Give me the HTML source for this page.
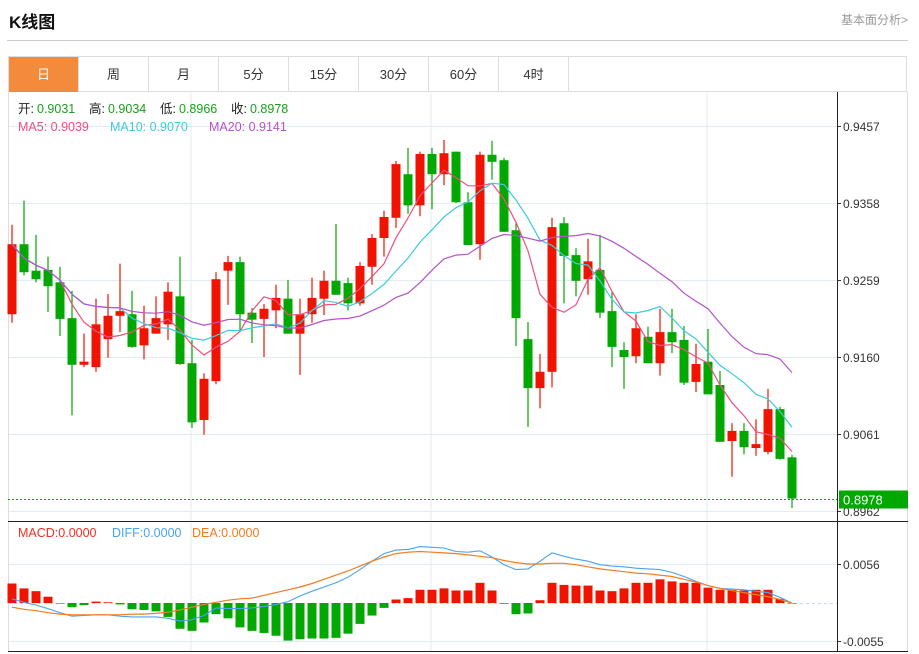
<!DOCTYPE html>
<html><head><meta charset="utf-8">
<style>
body{margin:0;background:#fff;width:919px;height:654px;overflow:hidden;font-family:"Liberation Sans","Noto Sans CJK SC",sans-serif;}
#title{position:absolute;left:9px;top:8px;font-size:17px;font-weight:bold;color:#111;}
#fund{position:absolute;left:841px;top:11px;font-size:12px;color:#999;}
#hr{position:absolute;left:7px;top:40px;width:901px;height:1px;background:#ccc;}
#tabs{position:absolute;left:8px;top:56px;width:899px;height:36px;border:1px solid #ddd;border-bottom:1px solid #ddd;box-sizing:border-box;}
.tab{position:absolute;top:0;height:35px;width:70px;border-right:1px solid #ddd;text-align:center;line-height:35px;font-size:13px;color:#333;box-sizing:border-box;}
.tab.on{background:#f28c3c;color:#fff;}
svg{position:absolute;left:0;top:0;}
</style></head><body>
<div id="title">K线图</div>
<div id="fund">基本面分析&gt;</div>
<div id="hr"></div>
<div id="tabs">
<div class="tab on" style="left:0">日</div>
<div class="tab" style="left:70px">周</div>
<div class="tab" style="left:140px">月</div>
<div class="tab" style="left:210px">5分</div>
<div class="tab" style="left:280px">15分</div>
<div class="tab" style="left:350px">30分</div>
<div class="tab" style="left:420px">60分</div>
<div class="tab" style="left:490px">4时</div>
</div>
<svg id="chart" width="919" height="654"></svg>
<script>
const opens=[0.9215,0.9305,0.9271,0.9272,0.9256,0.9210,0.9150,0.9147,0.9183,0.9213,0.9215,0.9175,0.9190,0.9202,0.9238,0.9152,0.9079,0.9129,0.9271,0.9282,0.9217,0.9209,0.9220,0.9235,0.9190,0.9215,0.9235,0.9258,0.9255,0.9229,0.9276,0.9313,0.9339,0.9395,0.9355,0.9421,0.9395,0.9424,0.9359,0.9305,0.9420,0.9413,0.9323,0.9183,0.9120,0.9141,0.9332,0.9291,0.9260,0.9272,0.9219,0.9169,0.9161,0.9186,0.9152,0.9192,0.9182,0.9128,0.9154,0.9124,0.9052,0.9065,0.9043,0.9038,0.9093,0.9031];
const highs=[0.9330,0.9361,0.9317,0.9289,0.9276,0.9245,0.9190,0.9235,0.9241,0.9280,0.9245,0.9226,0.9238,0.9256,0.9289,0.9182,0.9139,0.9269,0.9290,0.9289,0.9223,0.9228,0.9253,0.9259,0.9235,0.9262,0.9271,0.9331,0.9262,0.9282,0.9318,0.9348,0.9412,0.9429,0.9424,0.9429,0.9439,0.9424,0.9372,0.9424,0.9438,0.9416,0.9332,0.9205,0.9164,0.9339,0.9340,0.9300,0.9312,0.9317,0.9244,0.9179,0.9215,0.9199,0.9222,0.9222,0.9200,0.9177,0.9196,0.9142,0.9075,0.9075,0.9080,0.9119,0.9096,0.9034];
const lows=[0.9204,0.9265,0.9256,0.9218,0.9187,0.9085,0.9147,0.9141,0.9159,0.9192,0.9172,0.9157,0.9190,0.9182,0.9150,0.9069,0.9060,0.9125,0.9227,0.9192,0.9178,0.9160,0.9197,0.9190,0.9137,0.9204,0.9214,0.9240,0.9220,0.9226,0.9253,0.9289,0.9326,0.9344,0.9341,0.9350,0.9381,0.9358,0.9304,0.9285,0.9388,0.9321,0.9174,0.9070,0.9094,0.9121,0.9229,0.9238,0.9240,0.9210,0.9147,0.9119,0.9152,0.9152,0.9136,0.9165,0.9124,0.9115,0.9112,0.9051,0.9006,0.9035,0.9033,0.9035,0.9028,0.8966];
const closes=[0.9305,0.9269,0.9260,0.9251,0.9209,0.9150,0.9154,0.9202,0.9213,0.9219,0.9173,0.9197,0.9210,0.9244,0.9151,0.9076,0.9132,0.9260,0.9282,0.9215,0.9208,0.9222,0.9236,0.9190,0.9215,0.9236,0.9258,0.9240,0.9229,0.9277,0.9313,0.9340,0.9408,0.9355,0.9421,0.9395,0.9422,0.9359,0.9304,0.9420,0.9411,0.9321,0.9210,0.9120,0.9141,0.9327,0.9290,0.9258,0.9283,0.9217,0.9173,0.9160,0.9197,0.9152,0.9192,0.9179,0.9127,0.9151,0.9112,0.9051,0.9065,0.9044,0.9048,0.9093,0.9029,0.8978];
const macdHist=[0.0028,0.0021,0.0017,0.0009,0.0000,-0.0006,-0.0003,0.0002,0.0001,-0.0002,-0.0009,-0.0010,-0.0012,-0.0020,-0.0037,-0.0040,-0.0028,-0.0016,-0.0022,-0.0035,-0.0040,-0.0043,-0.0047,-0.0054,-0.0052,-0.0051,-0.0051,-0.0050,-0.0044,-0.0030,-0.0018,-0.0007,0.0005,0.0007,0.0019,0.0019,0.0021,0.0018,0.0018,0.0029,0.0018,-0.0001,-0.0016,-0.0015,0.0004,0.0029,0.0026,0.0025,0.0025,0.0018,0.0017,0.0021,0.0029,0.0029,0.0034,0.0031,0.0029,0.0029,0.0022,0.0019,0.0019,0.0018,0.0019,0.0019,0.0006,0.0000];
const diffLine=[0.0006,0.0001,-0.0003,-0.0008,-0.0014,-0.0019,-0.0018,-0.0017,-0.0017,-0.0019,-0.0020,-0.0020,-0.0020,-0.0022,-0.0026,-0.0024,-0.0018,-0.0007,-0.0008,-0.0008,-0.0007,-0.0005,-0.0002,0.0002,0.0010,0.0017,0.0023,0.0029,0.0037,0.0048,0.0060,0.0071,0.0076,0.0077,0.0081,0.0080,0.0079,0.0074,0.0073,0.0075,0.0066,0.0055,0.0048,0.0049,0.0060,0.0072,0.0067,0.0063,0.0060,0.0055,0.0053,0.0052,0.0050,0.0049,0.0048,0.0044,0.0038,0.0031,0.0025,0.0021,0.0020,0.0019,0.0017,0.0015,0.0008,0.0000];
const deaLine=[-0.0006,-0.0009,-0.0011,-0.0014,-0.0016,-0.0017,-0.0017,-0.0017,-0.0017,-0.0017,-0.0016,-0.0016,-0.0015,-0.0013,-0.0010,-0.0006,-0.0002,0.0001,0.0004,0.0006,0.0007,0.0011,0.0015,0.0019,0.0023,0.0028,0.0034,0.0040,0.0046,0.0053,0.0060,0.0066,0.0071,0.0073,0.0074,0.0073,0.0072,0.0071,0.0069,0.0067,0.0065,0.0061,0.0058,0.0056,0.0056,0.0057,0.0057,0.0055,0.0052,0.0049,0.0047,0.0045,0.0043,0.0042,0.0040,0.0038,0.0034,0.0030,0.0025,0.0021,0.0018,0.0015,0.0012,0.0009,0.0005,0.0000];
const priceTicks=[0.9457,0.9358,0.9259,0.9160,0.9061,0.8962];
const macdTicks=[0.0056,-0.0055];
const maPeriods=[5,10,20];

const NS="http://www.w3.org/2000/svg";
const svg=document.getElementById('chart');
function mk(tag,attrs,parent){const e=document.createElementNS(NS,tag);for(const k in attrs)e.setAttribute(k,attrs[k]);(parent||svg).appendChild(e);return e;}
const X0=12,DX=12.0,L=8,R=837;
const xS=i=>X0+i*DX;
const yP=p=>126+(0.9457-p)*7778;
const yM=v=>603-v*6964;
const RED='#f01400',GREEN='#00a800';

[191,431,707].forEach(x=>{
  const g1=mk('line',{x1:x,x2:x,y1:93,y2:521,stroke:'#e3ebf2'});
  
  
  const g2=mk('line',{x1:x,x2:x,y1:523,y2:651,stroke:'#e3ebf2'});
  
  
});
priceTicks.forEach(p=>{
  const y=Math.round(yP(p))+0.5;
  const g=mk('line',{x1:L,x2:R,y1:y,y2:y,stroke:'#e3ebf2'});
  
  
  mk('line',{x1:R,x2:R+4,y1:y,y2:y,stroke:'#333'});
  const t=mk('text',{x:R+6,y:y+4.5,'font-size':12,fill:'#333'});
  t.textContent=p.toFixed(4);
  
  
});
macdTicks.forEach(v=>{
  const y=Math.round(yM(v))+0.5;
  const g=mk('line',{x1:L,x2:R,y1:y,y2:y,stroke:'#e3ebf2'});
  
  
  mk('line',{x1:R,x2:R+4,y1:y,y2:y,stroke:'#333'});
  const t=mk('text',{x:R+6,y:y+4.5,'font-size':12,fill:'#333'});
  t.textContent=v.toFixed(4);
  
  
});
mk('line',{x1:L+0.5,x2:L+0.5,y1:92,y2:652,stroke:'#ddd'});
mk('line',{x1:907.5,x2:907.5,y1:92,y2:652,stroke:'#ddd'});
mk('line',{x1:R+0.5,x2:R+0.5,y1:92,y2:652,stroke:'#222'});
mk('line',{x1:L,x2:908,y1:521.5,y2:521.5,stroke:'#222'});
mk('line',{x1:L,x2:908,y1:651.5,y2:651.5,stroke:'#222'});

for(let i=0;i<closes.length;i++){
  const up=closes[i]>=opens[i];const c=up?RED:GREEN;const x=xS(i);
  const g=mk('g',{});
  
  
  mk('line',{x1:x,x2:x,y1:yP(highs[i]),y2:yP(lows[i]),stroke:c,'stroke-width':1.2},g);
  const t=yP(Math.max(opens[i],closes[i])),b=yP(Math.min(opens[i],closes[i]));
  mk('rect',{x:x-4.5,y:t,width:9,height:Math.max(1.5,b-t),fill:c},g);
}
const maColors=['#ee4f7f','#3ccbdc','#b452c8'];
maPeriods.forEach((n,k)=>{
  const pts=closes.map((_,i)=>{const s=closes.slice(Math.max(0,i-n+1),i+1);return xS(i)+','+yP(s.reduce((a,b)=>a+b,0)/s.length).toFixed(1);});
  const pl=mk('polyline',{points:pts.join(' '),fill:'none',stroke:maColors[k],'stroke-width':1.2});
  
  
});
const ly=Math.round(yP(closes[closes.length-1]))+0.5;
mk('line',{x1:L,x2:R,y1:ly,y2:ly,stroke:GREEN,'stroke-dasharray':'2,2'});
const lb=mk('rect',{x:R+2,y:ly-9,width:69,height:18,fill:GREEN});


const lt=mk('text',{x:R+6,y:ly+5,'font-size':13,fill:'#fff'});
lt.textContent=closes[closes.length-1].toFixed(4);



mk('line',{x1:L,x2:R,y1:603.5,y2:603.5,stroke:'#bfe0f0','stroke-dasharray':'3,3'});
macdHist.forEach((v,i)=>{
  const y0=yM(0),y1=yM(v);
  const r=mk('rect',{x:xS(i)-4.5,y:Math.min(y0,y1),width:9,height:Math.max(0.5,Math.abs(y1-y0)),fill:v>=0?RED:GREEN});
  
  
});
const dl=mk('polyline',{points:diffLine.map((v,i)=>xS(i)+','+yM(v).toFixed(1)).join(' '),fill:'none',stroke:'#4aa3ef','stroke-width':1.1});


const de=mk('polyline',{points:deaLine.map((v,i)=>xS(i)+','+yM(v).toFixed(1)).join(' '),fill:'none',stroke:'#f47b20','stroke-width':1.2});



function txt(x,y,s,fill,name){const t=mk('text',{x:x,y:y,'font-size':12.5,fill:fill});t.textContent=s;return t;}
const last=closes.length-1;
txt(18,113,'开:','#222','open-label');txt(37,113,opens[last].toFixed(4),'#1a9f1a','open-value');
txt(89,113,'高:','#222','high-label');txt(108,113,highs[last].toFixed(4),'#1a9f1a','high-value');
txt(160,113,'低:','#222','low-label');txt(179,113,lows[last].toFixed(4),'#1a9f1a','low-value');
txt(231,113,'收:','#222','close-label');txt(250,113,closes[last].toFixed(4),'#1a9f1a','close-value');
txt(18,131,'MA5: 0.9039','#ee4f7f','ma5-legend');
txt(110,131,'MA10: 0.9070','#3ccbdc','ma10-legend');
txt(209,131,'MA20: 0.9141','#b452c8','ma20-legend');
txt(18,537,'MACD:0.0000','#f03020','macd-legend');
txt(112,537,'DIFF:0.0000','#4aa3ef','diff-legend');
txt(192,537,'DEA:0.0000','#f47b20','dea-legend');
</script>
</body></html>
